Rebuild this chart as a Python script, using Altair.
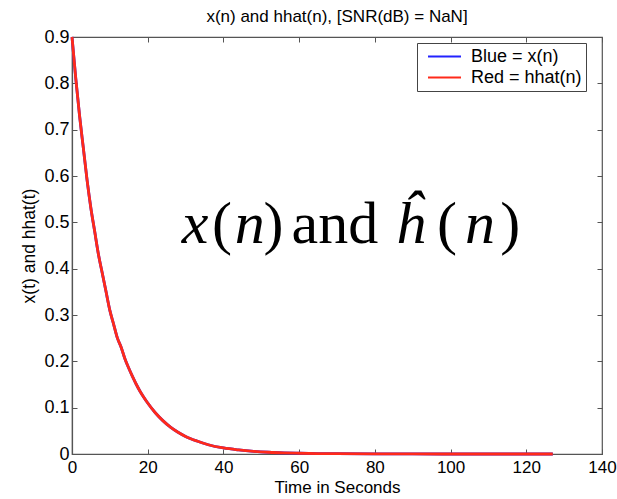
import altair as alt
import pandas as pd

# ---- data ----
n_vals = [0, 1, 2, 3, 4, 5, 6, 7, 8, 9, 10, 11, 12, 13, 14, 15, 16, 17, 18, 19, 20,
          22, 24, 26, 28, 30, 33, 36, 40, 44, 48, 52, 56, 60, 65, 70, 80, 90, 100,
          110, 120, 127]
x_vals = [0.90, 0.81, 0.73, 0.66, 0.59, 0.53, 0.48, 0.43, 0.39, 0.35, 0.31, 0.28,
          0.25, 0.23, 0.205, 0.185, 0.167, 0.15, 0.135, 0.122, 0.11, 0.089, 0.072,
          0.058, 0.047, 0.038, 0.028, 0.020, 0.013, 0.0088, 0.0058, 0.0038, 0.0025,
          0.0016, 0.0010, 0.0006, 0.0002, 0.0001, 0.0, 0.0, 0.0, 0.0]
h_vals = list(x_vals)  # hhat(n) overlays x(n) exactly in the picture

series_names = ["Blue = x(n)", "Red = hhat(n)"]
series_colors = ["#2323ff", "#ff2a1a"]

x_ticks = [0, 20, 40, 60, 80, 100, 120, 140]
y_ticks = [0, 0.1, 0.2, 0.3, 0.4, 0.5, 0.6, 0.7, 0.8, 0.9]

title_text = "x(n) and hhat(n), [SNR(dB) = NaN]"
x_title = "Time in Seconds"
y_title = "x(t) and hhat(t)"

# big annotation "x(n) and ĥ(n)" split into upright / italic pieces
ann_text = ["x", "(", "n", ")", "and", "\u0125", "(", "n", ")"]
ann_italic = [True, False, True, False, False, True, False, True, False]
ann_n = [29.0, 37.0, 43.0, 50.6, 58.0, 85.4, 96.4, 103.8, 113.1]
ann_v = 0.456

# ---- tables ----
rows = []
for n, v in zip(n_vals, x_vals):
    rows.append({"n": n, "v": v, "series": series_names[0]})
for n, v in zip(n_vals, h_vals):
    rows.append({"n": n, "v": v, "series": series_names[1]})
df = pd.DataFrame(rows)

ann = pd.DataFrame({"n": ann_n, "v": [ann_v] * len(ann_n),
                    "text": ann_text, "italic": ann_italic})

W, H = 530, 417

x_enc = alt.X("n:Q", scale=alt.Scale(domain=[0, 140], nice=False, zero=False),
              axis=alt.Axis(values=x_ticks, format="d", title=x_title,
                            gridDash=[5, H - 10, 5, 3000], labelPadding=5,
                            labelFontSize=17, labelFlush=False, titlePadding=4,
                            titleFontSize=17))
y_enc = alt.Y("v:Q", scale=alt.Scale(domain=[0, 0.9], nice=False),
              axis=alt.Axis(values=y_ticks, format=".1~f", title=y_title,
                            gridDash=[5, W - 10, 5, 3000], labelPadding=3,
                            labelFlush=False, titlePadding=5))

lines = alt.Chart(df).mark_line(strokeWidth=2.8, interpolate="monotone").encode(
    x=x_enc,
    y=y_enc,
    color=alt.Color("series:N",
                    scale=alt.Scale(domain=series_names, range=series_colors),
                    legend=alt.Legend(title=None, orient="none", legendX=345, legendY=6,
                                      symbolType="M-2,0H2", symbolSize=272,
                                      symbolStrokeWidth=2, symbolOffset=14,
                                      labelOffset=17, padding=4, rowPadding=2,
                                      labelFontSize=18, labelFont="Liberation Sans",
                                      labelColor="black",
                                      strokeColor="#444", fillColor="white")),
    order=alt.Order("n:Q"),
)

ann_upright = alt.Chart(ann).transform_filter("!datum.italic").mark_text(
    align="left", baseline="alphabetic", font="Liberation Serif", fontSize=60,
    color="black").encode(x="n:Q", y="v:Q", text="text:N")
ann_ital = alt.Chart(ann).transform_filter("datum.italic").mark_text(
    align="left", baseline="alphabetic", font="Liberation Serif", fontSize=60,
    fontStyle="italic", color="black").encode(x="n:Q", y="v:Q", text="text:N")

chart = alt.layer(lines, ann_upright, ann_ital).properties(
    width=W, height=H,
    autosize="none",
    padding={"left": 72, "top": 37, "right": 15, "bottom": 45},
    title=alt.TitleParams(title_text, font="Liberation Sans", fontSize=17,
                          fontWeight="normal", color="black", offset=2),
).configure_axis(
    grid=True, gridColor="#555", gridWidth=1, gridOpacity=1,
    ticks=False, domainColor="#555", domainWidth=1.2,
    labelFont="Liberation Sans", labelFontSize=18, labelColor="black",
    titleFont="Liberation Sans", titleFontSize=17.5, titleFontWeight="normal",
    titleColor="black",
).configure_view(stroke="#555", strokeWidth=1.2)

chart.save("out.html", embed_options={"renderer": "svg", "actions": False})
